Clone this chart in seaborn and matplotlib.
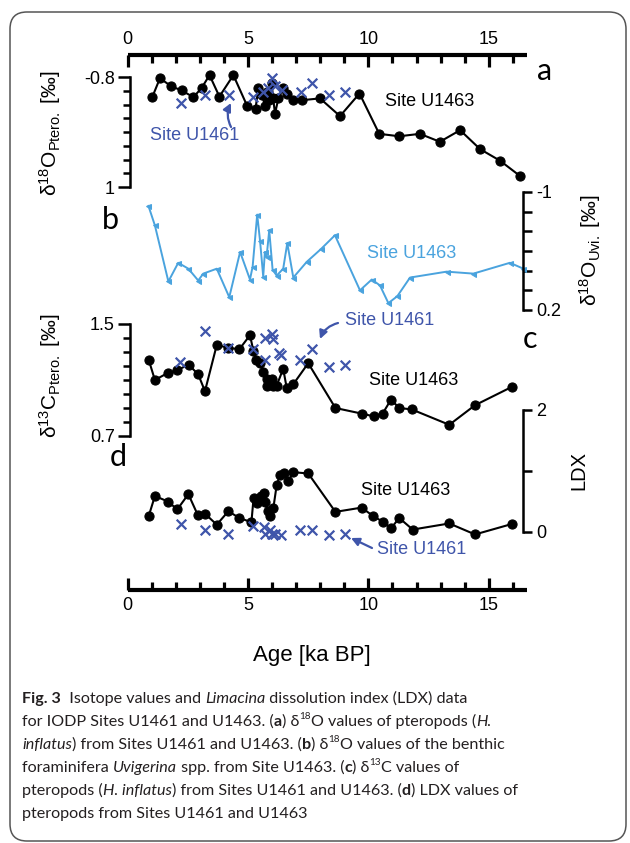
import matplotlib
matplotlib.use("Agg")
import numpy as np
import pandas as pd
import matplotlib.pyplot as plt
import seaborn as sns
from matplotlib.ticker import FixedLocator, FixedFormatter, NullFormatter
from matplotlib.patches import FancyBboxPatch
from matplotlib.transforms import IdentityTransform

sns.set_theme(style="white")
plt.rcParams["font.family"] = ["Liberation Sans", "DejaVu Sans"]
plt.rcParams["mathtext.fontset"] = "custom"
plt.rcParams["mathtext.rm"] = "Liberation Sans"
plt.rcParams["mathtext.it"] = "Liberation Sans:italic"
plt.rcParams["mathtext.bf"] = "Liberation Sans:bold"

# ---------------- data (ages in ka BP) ----------------
# (a) d18O pteropods
a_u1463_age = [1.03, 1.34, 1.80, 2.24, 2.73, 3.07, 3.40, 3.81, 4.39, 4.96, 5.31, 5.43, 5.58, 5.70,
               5.79, 5.87, 5.98, 6.04, 6.12, 6.26, 6.46, 6.62, 6.88, 7.23, 7.99, 8.82, 9.63, 10.45,
               11.28, 12.14, 12.97, 13.81, 14.64, 15.47, 16.30]
a_u1463_val = [-0.48, -0.78, -0.65, -0.58, -0.47, -0.62, -0.83, -0.48, -0.83, -0.33, -0.28, -0.62,
               -0.51, -0.33, -0.56, -0.42, -0.70, -0.46, -0.20, -0.45, -0.62, -0.52, -0.42, -0.42,
               -0.45, -0.16, -0.53, 0.13, 0.17, 0.13, 0.26, 0.07, 0.38, 0.57, 0.82]
a_u1461_age = [2.21, 3.21, 4.19, 5.22, 5.63, 5.83, 5.98, 6.12, 6.40, 7.20, 7.64, 8.38, 9.03]
a_u1461_val = [-0.37, -0.51, -0.50, -0.48, -0.56, -0.62, -0.78, -0.65, -0.59, -0.56, -0.70, -0.51, -0.55]

# (b) d18O Uvigerina U1463
b_u1463_age = [0.86, 1.13, 1.69, 2.10, 2.52, 2.93, 3.14, 3.70, 4.22, 4.67, 5.08, 5.19, 5.38, 5.50,
               5.63, 5.70, 5.77, 5.88, 6.02, 6.19, 6.46, 6.63, 6.88, 7.44, 8.03, 8.61, 9.65, 10.14,
               10.48, 10.83, 11.20, 11.73, 13.25, 14.36, 15.88, 16.44]
b_u1463_val = [-0.86, -0.66, -0.09, -0.28, -0.22, -0.10, -0.17, -0.22, 0.07, -0.39, -0.11, -0.24,
               -0.77, -0.50, -0.14, -0.39, -0.34, -0.61, -0.21, -0.15, -0.22, -0.48, -0.13, -0.29,
               -0.42, -0.56, 0.00, -0.11, -0.05, 0.13, 0.06, -0.13, -0.19, -0.17, -0.28, -0.22]

# (c) d13C pteropods
c_u1463_age = [0.88, 1.13, 1.66, 2.06, 2.53, 2.93, 3.21, 3.70, 4.18, 4.64, 5.08, 5.22, 5.33, 5.50,
               5.63, 5.77, 5.79, 5.98, 6.05, 6.19, 6.46, 6.61, 6.88, 7.50, 8.63, 9.72, 10.23, 10.59,
               10.94, 11.28, 11.80, 13.36, 14.43, 15.95]
c_u1463_val = [1.24, 1.10, 1.15, 1.17, 1.21, 1.14, 1.02, 1.35, 1.33, 1.32, 1.42, 1.31, 1.24, 1.22,
               1.16, 1.11, 1.06, 1.11, 1.06, 1.06, 1.18, 1.04, 1.07, 1.22, 0.90, 0.86, 0.84, 0.86,
               0.96, 0.90, 0.89, 0.78, 0.92, 1.05]
c_u1461_age = [2.19, 3.20, 4.18, 5.21, 5.69, 5.72, 5.98, 6.05, 6.30, 6.37, 7.16, 7.64, 8.38, 9.03]
c_u1461_val = [1.23, 1.45, 1.33, 1.32, 1.40, 1.24, 1.43, 1.39, 1.29, 1.28, 1.24, 1.32, 1.19, 1.21]

# (d) LDX
d_u1463_age = [0.88, 1.13, 1.67, 2.06, 2.52, 2.91, 3.21, 3.70, 4.18, 4.64, 5.14, 5.23, 5.39, 5.54,
               5.65, 5.72, 5.81, 5.91, 6.05, 6.19, 6.33, 6.49, 6.67, 6.88, 7.50, 8.63, 9.72, 10.20,
               10.59, 10.94, 11.28, 11.84, 13.36, 14.43, 15.95]
d_u1463_val = [0.27, 0.59, 0.50, 0.37, 0.62, 0.28, 0.30, 0.12, 0.34, 0.23, 0.16, 0.56, 0.47, 0.59,
               0.64, 0.49, 0.34, 0.27, 0.39, 0.77, 0.94, 0.96, 0.83, 0.98, 0.96, 0.33, 0.40, 0.26,
               0.17, 0.06, 0.23, 0.04, 0.14, -0.04, 0.13]
d_u1461_age = [2.21, 3.21, 4.18, 5.19, 5.68, 5.72, 5.91, 5.98, 6.12, 6.35, 7.16, 7.64, 8.38, 9.03]
d_u1461_val = [0.13, 0.03, -0.04, 0.10, 0.09, -0.04, 0.04, -0.03, -0.03, -0.05, 0.03, 0.03, -0.05, -0.04]

x_major_ticks = [0, 5, 10, 15]
x_minor_ticks = [1, 2, 3, 4, 6, 7, 8, 9, 11, 12, 13, 14, 16]
a_ticks = list(np.round(np.linspace(-0.8, 1.0, 9), 4))
b_ticks = [-1.0, -0.8, -0.6, -0.4, -0.2, 0.0, 0.2]
c_ticks = [0.7, 0.8, 0.9, 1.0, 1.1, 1.2, 1.3, 1.4, 1.5]
d_ticks = [0, 1, 2]

# ---------------- style ----------------
BLACK = "black"
BLUE = "#3f55aa"
LBLUE = "#4aa3de"
SANS = ["Liberation Sans", "DejaVu Sans"]
CAP_FONT = ["Lato", "DejaVu Sans"]
LET_FONT = ["Lato", "DejaVu Sans"]

W, H = 630, 843
DPI = 100
fig = plt.figure(figsize=(W / DPI, H / DPI), dpi=DPI)
fig.patch.set_facecolor("white")

X0 = 127.7
PXK = 24.07
XMAX = 16.57
AX_L = X0 / W
AX_W = XMAX * PXK / W
LEFT_X = (130.0 - X0) / PXK
RIGHT_X = (523.3 - X0) / PXK


def fy(y):
    return 1 - y / H


def make_panel(top, bot, v1, p1, v2, p2):
    ax = fig.add_axes([AX_L, fy(bot), AX_W, (bot - top) / H])
    k = (v2 - v1) / (p2 - p1)
    ax.set_xlim(0, XMAX)
    ax.set_ylim(v1 + (bot - p1) * k, v1 + (top - p1) * k)
    ax.patch.set_alpha(0)
    return ax


def finish_panel(ax, side, xpos, lo, hi, major, labels, minor, majlen, minlen, lw=1.8):
    ax.set_xlabel("")
    ax.set_ylabel("")
    ax.grid(False)
    for s in ax.spines.values():
        s.set_visible(False)
    ax.set_xticks([])
    sp = ax.spines[side]
    sp.set_visible(True)
    sp.set_position(("data", xpos))
    sp.set_bounds(lo, hi)
    sp.set_linewidth(lw)
    sp.set_color(BLACK)
    ax.yaxis.set_ticks_position(side)
    ax.yaxis.set_major_locator(FixedLocator(major))
    ax.yaxis.set_major_formatter(FixedFormatter(labels))
    ax.yaxis.set_minor_locator(FixedLocator(minor))
    ax.yaxis.set_minor_formatter(NullFormatter())
    right = side == "right"
    ax.tick_params(axis="y", which="both", direction="out", left=not right, right=right,
                   labelleft=not right, labelright=right, colors=BLACK, width=lw)
    ax.tick_params(axis="y", which="major", length=majlen, labelsize=13, pad=2.5)
    ax.tick_params(axis="y", which="minor", length=minlen)
    for lab in ax.get_yticklabels():
        lab.set_family(SANS)


def u1463_line(ax, x, y, color=BLACK, marker="o", ms=6.6, lw=1.5):
    sns.lineplot(x=x, y=y, ax=ax, color=color, marker=marker, markersize=ms,
                 markeredgecolor=color, markerfacecolor=color, linewidth=lw,
                 estimator=None, sort=True, clip_on=False)


def u1461_x(ax, x, y):
    sns.scatterplot(x=x, y=y, ax=ax, marker="x", s=48, color=BLUE, linewidth=1.6,
                    zorder=5, clip_on=False)


# ---------------- main x axis (top & bottom) ----------------
axx = fig.add_axes([AX_L, fy(590), AX_W, (590 - 55) / H])
axx.set_xlim(0, XMAX)
axx.set_ylim(0, 1)
axx.patch.set_alpha(0)
axx.grid(False)
for s in ["left", "right"]:
    axx.spines[s].set_visible(False)
for s in ["top", "bottom"]:
    axx.spines[s].set_visible(True)
    axx.spines[s].set_linewidth(3.0)
    axx.spines[s].set_color(BLACK)
    axx.spines[s].set_capstyle("butt")
axx.set_yticks([])
axx.xaxis.set_major_locator(FixedLocator(x_major_ticks))
axx.xaxis.set_major_formatter(FixedFormatter([str(v) for v in x_major_ticks]))
axx.xaxis.set_minor_locator(FixedLocator(x_minor_ticks))
axx.xaxis.set_minor_formatter(NullFormatter())
axx.tick_params(axis="x", which="both", direction="in", top=True, bottom=True,
                labeltop=True, labelbottom=True, width=2.3, colors=BLACK)
axx.tick_params(axis="x", which="major", length=8.5, labelsize=13, pad=5)
axx.tick_params(axis="x", which="minor", length=5.5)

# ---------------- panel a ----------------
axa = make_panel(58, 205, -0.8, 77, 1.0, 187)
u1463_line(axa, a_u1463_age, a_u1463_val)
u1461_x(axa, a_u1461_age, a_u1461_val)
finish_panel(axa, "left", LEFT_X, -0.8, 1.0, [-0.8, 1.0], ["-0.8", "1"], a_ticks, 8.5, 5.0)

# ---------------- panel b ----------------
axb = make_panel(185, 320, -1.0, 192, 0.2, 310)
u1463_line(axb, b_u1463_age, b_u1463_val, color=LBLUE, marker="<", ms=3.6, lw=1.4)
finish_panel(axb, "right", RIGHT_X, -1.0, 0.2, [-1.0, 0.2], ["-1", "0.2"], b_ticks, 6.5, 6.5)

# ---------------- panel c ----------------
axc = make_panel(315, 450, 1.5, 324, 0.7, 436)
u1463_line(axc, c_u1463_age, c_u1463_val)
u1461_x(axc, c_u1461_age, c_u1461_val)
finish_panel(axc, "left", LEFT_X, 0.7, 1.5, [0.7, 1.5], ["0.7", "1.5"], c_ticks, 8.5, 5.0)

# ---------------- panel d ----------------
axd = make_panel(400, 560, 2.0, 410, 0.0, 532)
u1463_line(axd, d_u1463_age, d_u1463_val)
u1461_x(axd, d_u1461_age, d_u1461_val)
finish_panel(axd, "right", RIGHT_X, 0.0, 2.0, [0, 1, 2], ["0", "", "2"], d_ticks, 6.5, 6.5)


# ---------------- texts ----------------
def put(x, y, s, **kw):
    kw.setdefault("ha", "center")
    kw.setdefault("va", "center")
    kw.setdefault("family", SANS)
    fig.text(x / W, fy(y), s, **kw)


put(430, 102, "Site U1463", fontsize=13, color=BLACK)
put(194.5, 135.5, "Site U1461", fontsize=13, color=BLUE)
put(412, 254, "Site U1463", fontsize=13, color=LBLUE)
put(390, 320.5, "Site U1461", fontsize=13, color=BLUE)
put(414, 380.5, "Site U1463", fontsize=13, color=BLACK)
put(406, 490.5, "Site U1463", fontsize=13, color=BLACK)
put(421.5, 549.5, "Site U1461", fontsize=13, color=BLUE)

for (lx, ly, lt) in [(545, 71, "a"), (110, 220, "b"), (530, 339, "c"), (118, 457, "d")]:
    put(lx, ly, lt, fontsize=22, color=BLACK, family=LET_FONT)

put(312, 655, "Age [ka BP]", fontsize=16, color=BLACK)
put(579, 471, "LDX", fontsize=14.5, color=BLACK, rotation=90)
put(50, 133, "δ$^{18}$O$_{\\mathrm{Ptero.}}$ [‰]", fontsize=15, color=BLACK, rotation=90)
put(590, 250, "δ$^{18}$O$_{\\mathrm{Uvi.}}$ [‰]", fontsize=15, color=BLACK, rotation=90)
put(50, 376, "δ$^{13}$C$_{\\mathrm{Ptero.}}$ [‰]", fontsize=15, color=BLACK, rotation=90)


def arrow(x1, y1, x2, y2, rad):
    axx.annotate("", xy=(x2, H - y2), xycoords="figure pixels",
                 xytext=(x1, H - y1), textcoords="figure pixels",
                 arrowprops=dict(arrowstyle="-|>", color=BLUE, lw=1.6, mutation_scale=12,
                                 connectionstyle=f"arc3,rad={rad}", shrinkA=0, shrinkB=0),
                 annotation_clip=False)


arrow(231, 127, 231, 103, -0.25)
arrow(338, 323, 320, 339, 0.25)
arrow(372, 548, 351, 538, 0.0)

# ---------------- caption ----------------
renderer = fig.canvas.get_renderer()


def _kw(style, size):
    kw = dict(fontsize=size, family=CAP_FONT, color="#231f20")
    if "b" in style:
        kw["weight"] = "bold"
    if "i" in style:
        kw["style"] = "italic"
    if "s" in style:
        kw["fontsize"] = size * 0.62
    return kw


def run_w(txt, style, size):
    kw = _kw(style, size)
    t1 = fig.text(0, 0, txt + "|", **kw)
    t2 = fig.text(0, 0, "|", **kw)
    w = t1.get_window_extent(renderer).width - t2.get_window_extent(renderer).width
    t1.remove()
    t2.remove()
    return w


def line_w(runs, size):
    return sum(run_w(t, s, size) for t, s in runs)


def draw_line(x0, base, runs, size):
    x = x0
    for t, s in runs:
        kw = _kw(s, size)
        yy = base - (size * 0.42 * DPI / 72 if "s" in s else 0)
        fig.text(x / W, fy(yy), t, ha="left", va="baseline", **kw)
        x += run_w(t, s, size)


cap_lines = [
    [("Fig. 3", "b"), ("  Isotope values and ", ""), ("Limacina", "i"), (" dissolution index (LDX) data", "")],
    [("for IODP Sites U1461 and U1463. (", ""), ("a", "b"), (") δ", ""), ("18", "s"),
     ("O values of pteropods (", ""), ("H.", "i")],
    [("inflatus", "i"), (") from Sites U1461 and U1463. (", ""), ("b", "b"), (") δ", ""), ("18", "s"),
     ("O values of the benthic", "")],
    [("foraminifera ", ""), ("Uvigerina", "i"), (" spp. from Site U1463. (", ""), ("c", "b"), (") δ", ""),
     ("13", "s"), ("C values of", "")],
    [("pteropods (", ""), ("H. inflatus", "i"), (") from Sites U1461 and U1463. (", ""), ("d", "b"),
     (") LDX values of", "")],
    [("pteropods from Sites U1461 and U1463", "")],
]

CAP_X = 22
ref = (line_w(cap_lines[1], 12) + line_w(cap_lines[2], 12) + line_w(cap_lines[4], 12)) / 3
cap_size = 12 * (504 - CAP_X) / ref
for i, runs in enumerate(cap_lines):
    draw_line(CAP_X, 703 + 23 * i, runs, cap_size)

# ---------------- frame ----------------
frame = FancyBboxPatch((10, H - 841), 616, 829, boxstyle="round,pad=0,rounding_size=17",
                       transform=IdentityTransform(), fill=False, edgecolor="#555555", linewidth=1.1)
fig.patches.append(frame)

fig.savefig("out.png", dpi=DPI, facecolor="white")
